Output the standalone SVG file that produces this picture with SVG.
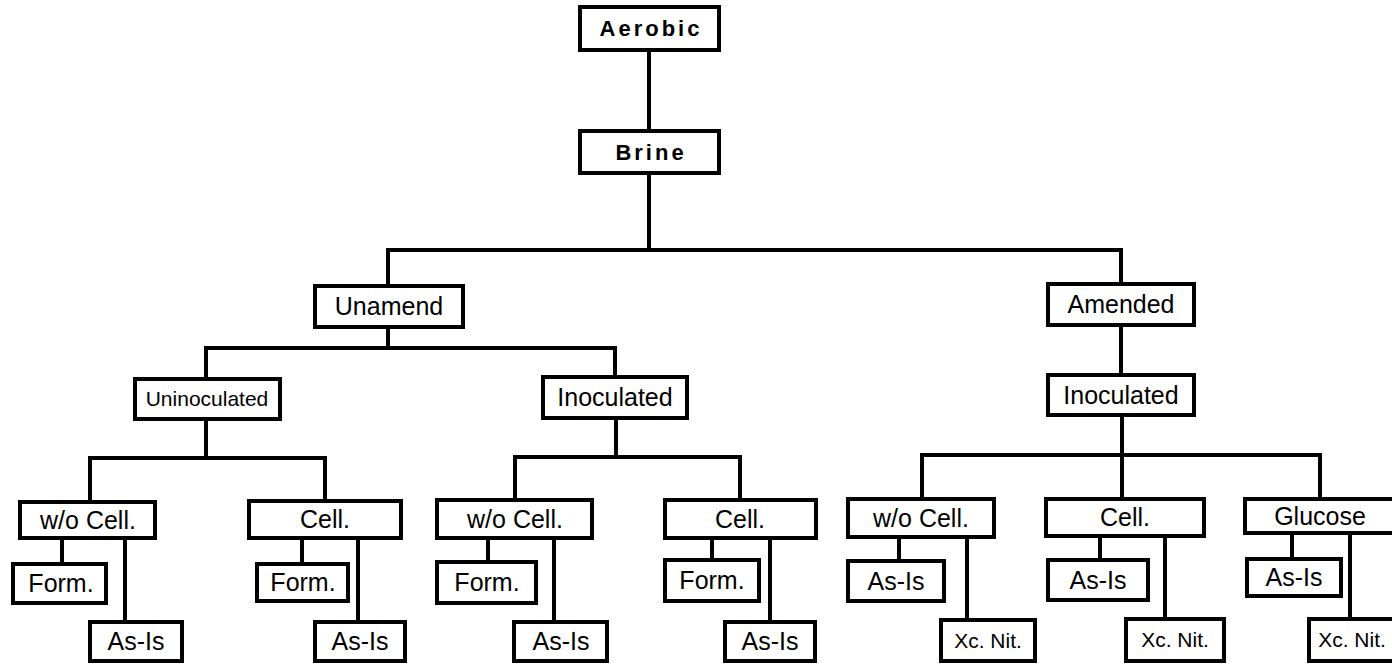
<svg xmlns="http://www.w3.org/2000/svg" width="1392" height="666" viewBox="0 0 1392 666">
<style>
.box{fill:#fff;stroke:#000;stroke-width:4}
.t{font-family:"Liberation Sans",Arial,sans-serif;font-size:25px;fill:#000;text-anchor:middle}
.b{font-weight:bold;font-size:22px;letter-spacing:3px}
.s{font-size:21px}
.c path{fill:none;stroke:#000;stroke-width:4}
</style>
<rect width="1392" height="666" fill="#fff"/>
<g class="c" id="connectors">
<path d="M649 50V131M649 173V250M386 250H1123M388 250V286M1121 250V284"/>
<path d="M388 327V348M204 348H617M206 348V379M615 348V377"/>
<path d="M1121 325V375M1122 415V455M920 455H1322M922 455V499M1122 455V499M1320 455V499"/>
<path d="M206 419V458M88 458H327M90 458V502M325 458V501"/>
<path d="M616 418V457M513 457H742M515 457V500M740 457V500"/>
<path d="M62 538V564M125 538V622M302 538V564M358 538V622"/>
<path d="M488 538V562M554 538V622M712 538V560M770 538V622"/>
<path d="M899 537V561M967 537V620M1100 536V560M1165 536V619M1292 533V559M1350 533V619"/>
</g>
<g id="aerobic"><rect class="box" x="580" y="7" width="139" height="43"/><text class="t b" x="651" y="36">Aerobic</text></g>
<g id="brine"><rect class="box" x="580" y="131" width="139" height="42"/><text class="t b" x="651" y="160">Brine</text></g>
<g id="unamend"><rect class="box" x="315" y="286" width="148" height="41"/><text class="t" x="389" y="315">Unamend</text></g>
<g id="amended"><rect class="box" x="1048" y="284" width="146" height="41"/><text class="t" x="1121" y="313">Amended</text></g>
<g id="uninoculated"><rect class="box" x="135" y="379" width="145" height="40"/><text class="t s" x="207" y="406">Uninoculated</text></g>
<g id="inoculated1"><rect class="box" x="543" y="377" width="144" height="41"/><text class="t" x="615" y="406">Inoculated</text></g>
<g id="inoculated2"><rect class="box" x="1048" y="375" width="146" height="40"/><text class="t" x="1121" y="404">Inoculated</text></g>

<g id="wocell1"><rect class="box" x="20" y="502" width="135" height="36"/><text class="t" x="88" y="529">w/o Cell.</text></g>
<g id="form1"><rect class="box" x="13" y="564" width="93" height="39"/><text class="t" x="61" y="592">Form.</text></g>
<g id="asis1"><rect class="box" x="90" y="622" width="92" height="39"/><text class="t" x="136" y="650">As-Is</text></g>
<g id="cell1"><rect class="box" x="249" y="501" width="152" height="37"/><text class="t" x="325" y="528">Cell.</text></g>
<g id="form2"><rect class="box" x="257" y="564" width="91" height="37"/><text class="t" x="303" y="591">Form.</text></g>
<g id="asis2"><rect class="box" x="315" y="622" width="90" height="39"/><text class="t" x="360" y="650">As-Is</text></g>

<g id="wocell2"><rect class="box" x="437" y="500" width="155" height="38"/><text class="t" x="515" y="528">w/o Cell.</text></g>
<g id="form3"><rect class="box" x="437" y="562" width="99" height="41"/><text class="t" x="487" y="591">Form.</text></g>
<g id="asis3"><rect class="box" x="514" y="622" width="93" height="39"/><text class="t" x="561" y="650">As-Is</text></g>
<g id="cell2"><rect class="box" x="665" y="500" width="151" height="38"/><text class="t" x="740" y="528">Cell.</text></g>
<g id="form4"><rect class="box" x="665" y="560" width="94" height="41"/><text class="t" x="712" y="589">Form.</text></g>
<g id="asis4"><rect class="box" x="725" y="622" width="90" height="39"/><text class="t" x="770" y="650">As-Is</text></g>

<g id="wocell3"><rect class="box" x="848" y="499" width="146" height="38"/><text class="t" x="921" y="527">w/o Cell.</text></g>
<g id="asis5"><rect class="box" x="848" y="561" width="96" height="40"/><text class="t" x="896" y="590">As-Is</text></g>
<g id="xcnit1"><rect class="box" x="941" y="620" width="94" height="41"/><text class="t s" x="988" y="648">Xc. Nit.</text></g>
<g id="cell3"><rect class="box" x="1046" y="499" width="158" height="37"/><text class="t" x="1125" y="526">Cell.</text></g>
<g id="asis6"><rect class="box" x="1048" y="560" width="100" height="40"/><text class="t" x="1098" y="589">As-Is</text></g>
<g id="xcnit2"><rect class="box" x="1126" y="619" width="98" height="42"/><text class="t s" x="1175" y="647">Xc. Nit.</text></g>
<g id="glucose"><rect class="box" x="1245" y="499" width="150" height="34"/><text class="t" x="1320" y="525">Glucose</text></g>
<g id="asis7"><rect class="box" x="1247" y="559" width="94" height="37"/><text class="t" x="1294" y="586">As-Is</text></g>
<g id="xcnit3"><rect class="box" x="1309" y="619" width="88" height="42"/><text class="t s" x="1352" y="647">Xc. Nit.</text></g>
</svg>
